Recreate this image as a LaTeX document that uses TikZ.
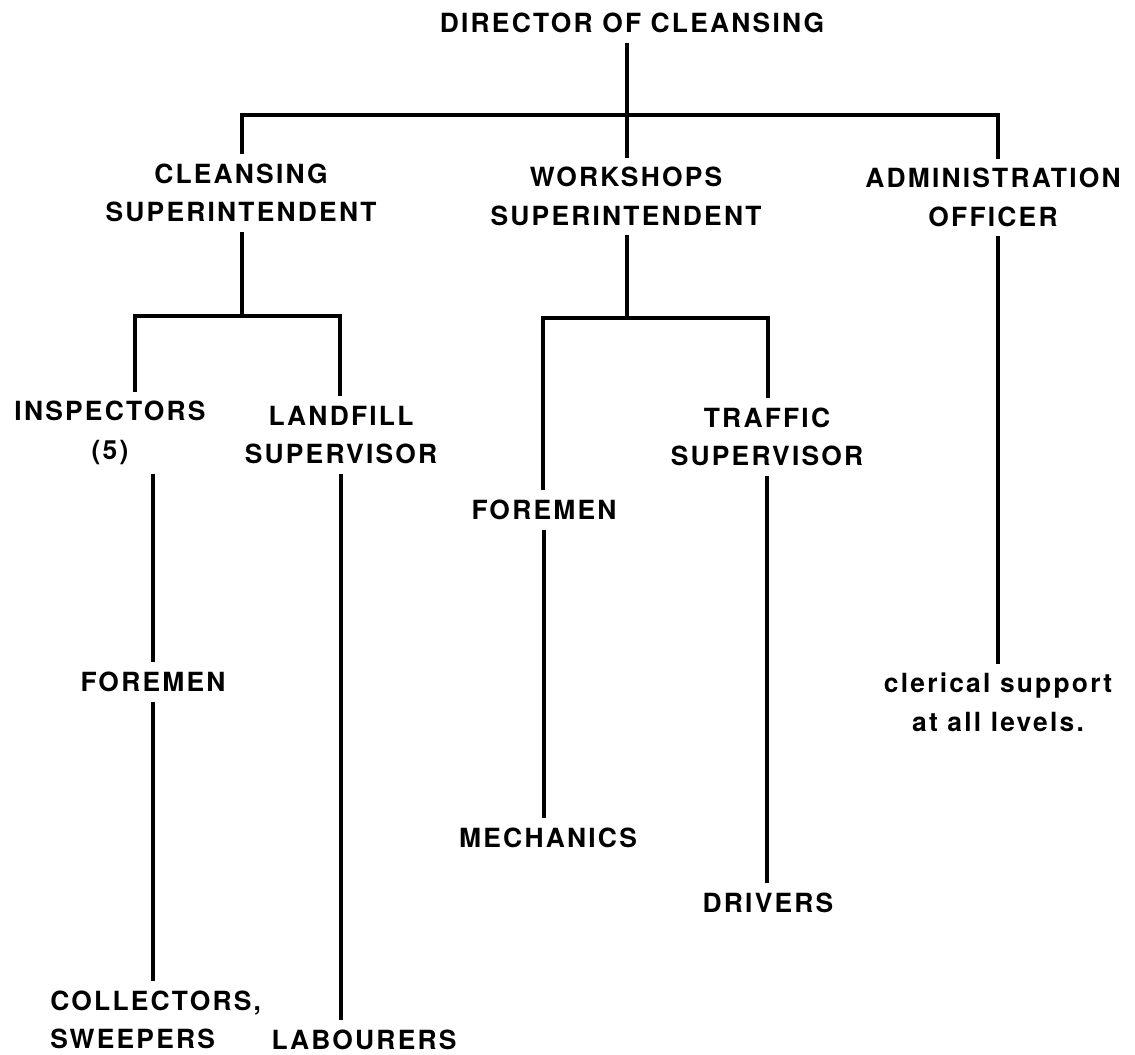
\documentclass[tikz,border=0pt]{standalone}
\usepackage{fontspec}
\setmainfont{TeX Gyre Heros}[LetterSpace=8.4]
\usepackage{tikz}

\begin{document}
\begin{tikzpicture}[x=0.75pt,y=-0.75pt,
        post/.style={font=\fontsize{19.8}{29}\selectfont\bfseries, align=center, inner xsep=0pt, inner ysep=7pt},
        link/.style={line width=2.9pt}]
        \useasboundingbox (0,0) rectangle (1135,1055);
        \fill[white] (0,0) rectangle (1135,1055);
        \node[post] (dir) at (632,23) {DIRECTOR OF CLEANSING};
        \node[post] (cls) at (241,193) {CLEANSING\\SUPERINTENDENT};
        \node[post] (wks) at (626,196.5) {WORKSHOPS\\SUPERINTENDENT};
        \node[post] (adm) at (993,197.5) {ADMINISTRATION\\OFFICER};
        \node[post] (insp) at (110,433) {INSPECTORS\\(5)};
        \node[post] (lnd) at (341,435) {LANDFILL\\SUPERVISOR};
        \node[post] (fmw) at (544,510) {FOREMEN};
        \node[post] (trf) at (767,437) {TRAFFIC\\SUPERVISOR};
        \node[post] (fmc) at (153,682) {FOREMEN};
        \node[post, align=left, anchor=west] (col) at (50,1020) {COLLECTORS,\\SWEEPERS};
        \node[post] (lab) at (364,1040) {LABOURERS};
        \node[post] (mec) at (548,838) {MECHANICS};
        \node[post] (drv) at (768,903) {DRIVERS};
        \node[post] (clr) at (998,702.5) {clerical support\\at all levels.};
        \coordinate (tl) at (242,115);
        \coordinate (tc) at (627,115);
        \coordinate (tr) at (998,115);
        \coordinate (cl) at (135,316);
        \coordinate (cm) at (242,316);
        \coordinate (cr) at (340,316);
        \coordinate (wl) at (543,318);
        \coordinate (wm) at (627,318);
        \coordinate (wr) at (768,318);
        \draw[link] (dir.south -| tc) -- (wks.north -| tc);
        \draw[link] (cls.north -| tl) -- (tl) -- (tr) -- (adm.north -| tr);
        \draw[link] (cls.south -| cm) -- (cm);
        \draw[link] (insp.north -| cl) -- (cl) -- (cr) -- (lnd.north -| cr);
        \draw[link] (wks.south -| wm) -- (wm);
        \draw[link] (fmw.north -| wl) -- (wl) -- (wr) -- (trf.north -| wr);
        \draw[link] (fmc.north |- insp.south) -- (fmc.north);
        \draw[link] (fmc.south) -- (fmc.south |- col.north);
        \draw[link] (lnd.south) -- (lnd.south |- lab.north);
        \draw[link] (fmw.south) -- (fmw.south |- mec.north);
        \draw[link] (trf.south) -- (trf.south |- drv.north);
        \draw[link] (adm.south -| tr) -- (clr.north -| tr);
    \end{tikzpicture}
\end{document}
